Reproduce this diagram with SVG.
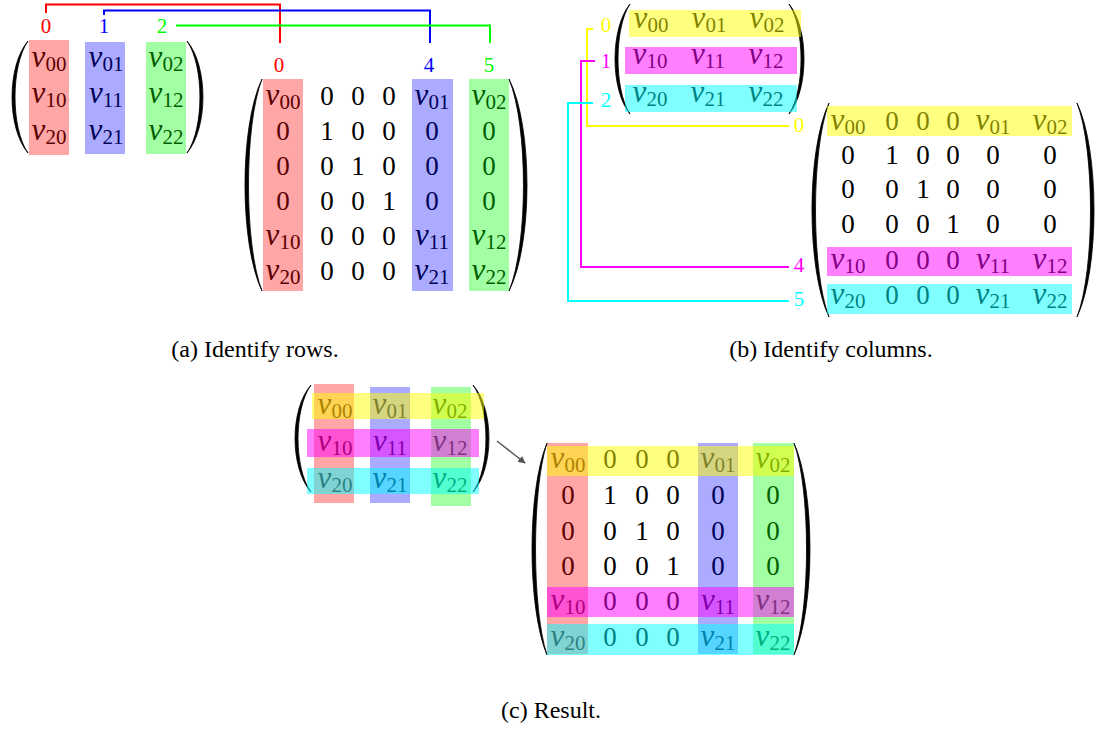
<svg xmlns="http://www.w3.org/2000/svg" width="1097" height="729" viewBox="0 0 1097 729" font-family="'Liberation Serif', 'DejaVu Serif', serif">
<defs>
<style>
.m{font-family:"Liberation Serif","DejaVu Serif",serif;font-size:27px;text-anchor:middle;fill:#000}
.v{font-family:"Liberation Serif","DejaVu Serif",serif;font-style:italic;font-size:31px}
.s{font-family:"Liberation Serif","DejaVu Serif",serif;font-size:21px}
.l{font-family:"Liberation Serif","DejaVu Serif",serif;font-size:21px;text-anchor:middle}
.cap{font-family:"Liberation Serif","DejaVu Serif",serif;font-size:24px;text-anchor:middle;fill:#000}
.par{fill:#000;stroke:#000;stroke-width:0.8}
.R{fill:#ff0000;opacity:0.35}
.B{fill:#0000ff;opacity:0.33}
.G{fill:#00ff00;opacity:0.36}
.Y{fill:#ffff00;opacity:0.5}
.M{fill:#ff00ff;opacity:0.5}
.C{fill:#00ffff;opacity:0.5}
.ln{fill:none;stroke-width:2}
</style>
<marker id="ah" viewBox="0 0 10 10" refX="9" refY="5" markerWidth="5" markerHeight="5" orient="auto">
<path d="M0,0 L10,5 L0,10 z" fill="#555"/>
</marker>
</defs>
<rect width="1097" height="729" fill="#fff"/>

<!-- Panel (a) left matrix -->
<g id="a-left">
<path class="par" d="M28,41 C6.7,66 6.7,128 28,153 C10.7,128 10.7,66 28,41 Z"/>
<path class="par" d="M187,41 C208.3,66 208.3,128 187,153 C204.3,128 204.3,66 187,41 Z"/>
<text class="m" x="49" y="67"><tspan class="v">v</tspan><tspan class="s" dy="4">00</tspan></text>
<text class="m" x="106" y="67"><tspan class="v">v</tspan><tspan class="s" dy="4">01</tspan></text>
<text class="m" x="166" y="67"><tspan class="v">v</tspan><tspan class="s" dy="4">02</tspan></text>
<text class="m" x="49" y="103"><tspan class="v">v</tspan><tspan class="s" dy="4">10</tspan></text>
<text class="m" x="106" y="103"><tspan class="v">v</tspan><tspan class="s" dy="4">11</tspan></text>
<text class="m" x="166" y="103"><tspan class="v">v</tspan><tspan class="s" dy="4">12</tspan></text>
<text class="m" x="49" y="140"><tspan class="v">v</tspan><tspan class="s" dy="4">20</tspan></text>
<text class="m" x="106" y="140"><tspan class="v">v</tspan><tspan class="s" dy="4">21</tspan></text>
<text class="m" x="166" y="140"><tspan class="v">v</tspan><tspan class="s" dy="4">22</tspan></text>
<rect class="R" x="29" y="40" width="40" height="115"/>
<rect class="B" x="85" y="42" width="40" height="112"/>
<rect class="G" x="146" y="42" width="40" height="112"/>
<text class="l" x="46" y="33" fill="#ff0000">0</text>
<text class="l" x="104" y="33" fill="#0000ff">1</text>
<text class="l" x="162" y="33" fill="#00ff00">2</text>
</g>

<!-- Panel (a) right matrix -->
<g id="a-right">
<path class="par" d="M262,79 C239.3,126 239.3,244 262,291 C244,244 244,126 262,79 Z"/>
<path class="par" d="M509,79 C533,126 533,244 509,291 C528.3,244 528.3,126 509,79 Z"/>
<text class="m" x="283" y="105"><tspan class="v">v</tspan><tspan class="s" dy="4">00</tspan></text>
<text class="m" x="327" y="105">0</text><text class="m" x="358" y="105">0</text><text class="m" x="389" y="105">0</text>
<text class="m" x="432" y="105"><tspan class="v">v</tspan><tspan class="s" dy="4">01</tspan></text>
<text class="m" x="489" y="105"><tspan class="v">v</tspan><tspan class="s" dy="4">02</tspan></text>
<text class="m" x="283" y="140">0</text><text class="m" x="327" y="140">1</text><text class="m" x="358" y="140">0</text><text class="m" x="389" y="140">0</text><text class="m" x="432" y="140">0</text><text class="m" x="489" y="140">0</text>
<text class="m" x="283" y="175">0</text><text class="m" x="327" y="175">0</text><text class="m" x="358" y="175">1</text><text class="m" x="389" y="175">0</text><text class="m" x="432" y="175">0</text><text class="m" x="489" y="175">0</text>
<text class="m" x="283" y="210">0</text><text class="m" x="327" y="210">0</text><text class="m" x="358" y="210">0</text><text class="m" x="389" y="210">1</text><text class="m" x="432" y="210">0</text><text class="m" x="489" y="210">0</text>
<text class="m" x="283" y="245"><tspan class="v">v</tspan><tspan class="s" dy="4">10</tspan></text>
<text class="m" x="327" y="245">0</text><text class="m" x="358" y="245">0</text><text class="m" x="389" y="245">0</text>
<text class="m" x="432" y="245"><tspan class="v">v</tspan><tspan class="s" dy="4">11</tspan></text>
<text class="m" x="489" y="245"><tspan class="v">v</tspan><tspan class="s" dy="4">12</tspan></text>
<text class="m" x="283" y="280"><tspan class="v">v</tspan><tspan class="s" dy="4">20</tspan></text>
<text class="m" x="327" y="280">0</text><text class="m" x="358" y="280">0</text><text class="m" x="389" y="280">0</text>
<text class="m" x="432" y="280"><tspan class="v">v</tspan><tspan class="s" dy="4">21</tspan></text>
<text class="m" x="489" y="280"><tspan class="v">v</tspan><tspan class="s" dy="4">22</tspan></text>
<rect class="R" x="263" y="79" width="40" height="212"/>
<rect class="B" x="412" y="79" width="41" height="212"/>
<rect class="G" x="469" y="79" width="40" height="212"/>
<text class="l" x="279" y="72" fill="#ff0000">0</text>
<text class="l" x="429" y="72" fill="#0000ff">4</text>
<text class="l" x="489" y="72" fill="#00ff00">5</text>
</g>

<!-- Panel (b) top matrix -->
<g id="b-top">
<path class="par" d="M630,4 C610,28 610,90 630,114 C614,90 614,28 630,4 Z"/>
<path class="par" d="M789,4 C809,28 809,90 789,114 C805,90 805,28 789,4 Z"/>
<text class="m" x="651" y="28"><tspan class="v">v</tspan><tspan class="s" dy="4">00</tspan></text>
<text class="m" x="709" y="28"><tspan class="v">v</tspan><tspan class="s" dy="4">01</tspan></text>
<text class="m" x="767" y="28"><tspan class="v">v</tspan><tspan class="s" dy="4">02</tspan></text>
<text class="m" x="650" y="64"><tspan class="v">v</tspan><tspan class="s" dy="4">10</tspan></text>
<text class="m" x="708" y="64"><tspan class="v">v</tspan><tspan class="s" dy="4">11</tspan></text>
<text class="m" x="766" y="64"><tspan class="v">v</tspan><tspan class="s" dy="4">12</tspan></text>
<text class="m" x="650" y="102"><tspan class="v">v</tspan><tspan class="s" dy="4">20</tspan></text>
<text class="m" x="708" y="102"><tspan class="v">v</tspan><tspan class="s" dy="4">21</tspan></text>
<text class="m" x="766" y="102"><tspan class="v">v</tspan><tspan class="s" dy="4">22</tspan></text>
<rect class="Y" x="629" y="10" width="172" height="27"/>
<rect class="M" x="625" y="47" width="172" height="27"/>
<rect class="C" x="625" y="85" width="172" height="27"/>
<text class="l" x="606" y="32" fill="#ffff00">0</text>
<text class="l" x="606" y="68" fill="#ff00ff">1</text>
<text class="l" x="606" y="107" fill="#00ffff">2</text>
</g>

<!-- Panel (b) right matrix -->
<g id="b-right">
<path class="par" d="M829,103 C806.3,150 806.3,270 829,317 C811,270 811,150 829,103 Z"/>
<path class="par" d="M1077,103 C1099.7,150 1099.7,270 1077,317 C1095,270 1095,150 1077,103 Z"/>
<text class="m" x="848" y="130"><tspan class="v">v</tspan><tspan class="s" dy="4">00</tspan></text>
<text class="m" x="892" y="130">0</text><text class="m" x="923" y="130">0</text><text class="m" x="953" y="130">0</text>
<text class="m" x="993" y="130"><tspan class="v">v</tspan><tspan class="s" dy="4">01</tspan></text>
<text class="m" x="1050" y="130"><tspan class="v">v</tspan><tspan class="s" dy="4">02</tspan></text>
<text class="m" x="848" y="164">0</text><text class="m" x="892" y="164">1</text><text class="m" x="923" y="164">0</text><text class="m" x="953" y="164">0</text><text class="m" x="993" y="164">0</text><text class="m" x="1050" y="164">0</text>
<text class="m" x="848" y="198">0</text><text class="m" x="892" y="198">0</text><text class="m" x="923" y="198">1</text><text class="m" x="953" y="198">0</text><text class="m" x="993" y="198">0</text><text class="m" x="1050" y="198">0</text>
<text class="m" x="848" y="233">0</text><text class="m" x="892" y="233">0</text><text class="m" x="923" y="233">0</text><text class="m" x="953" y="233">1</text><text class="m" x="993" y="233">0</text><text class="m" x="1050" y="233">0</text>
<text class="m" x="848" y="269"><tspan class="v">v</tspan><tspan class="s" dy="4">10</tspan></text>
<text class="m" x="892" y="269">0</text><text class="m" x="923" y="269">0</text><text class="m" x="953" y="269">0</text>
<text class="m" x="993" y="269"><tspan class="v">v</tspan><tspan class="s" dy="4">11</tspan></text>
<text class="m" x="1050" y="269"><tspan class="v">v</tspan><tspan class="s" dy="4">12</tspan></text>
<text class="m" x="848" y="304"><tspan class="v">v</tspan><tspan class="s" dy="4">20</tspan></text>
<text class="m" x="892" y="304">0</text><text class="m" x="923" y="304">0</text><text class="m" x="953" y="304">0</text>
<text class="m" x="993" y="304"><tspan class="v">v</tspan><tspan class="s" dy="4">21</tspan></text>
<text class="m" x="1050" y="304"><tspan class="v">v</tspan><tspan class="s" dy="4">22</tspan></text>
<rect class="Y" x="827" y="106" width="245" height="30"/>
<rect class="M" x="827" y="247" width="245" height="29"/>
<rect class="C" x="827" y="284" width="245" height="30"/>
<text class="l" x="799" y="132" fill="#ffff00">0</text>
<text class="l" x="799" y="272" fill="#ff00ff">4</text>
<text class="l" x="799" y="306" fill="#00ffff">5</text>
</g>

<!-- Panel (c) left matrix -->
<g id="c-left">
<path class="par" d="M311,385 C289.7,409 289.7,468 311,492 C293.7,468 293.7,409 311,385 Z"/>
<path class="par" d="M473,385 C494.3,409 494.3,468 473,492 C490.3,468 490.3,409 473,385 Z"/>
<text class="m" x="335" y="414"><tspan class="v">v</tspan><tspan class="s" dy="4">00</tspan></text>
<text class="m" x="390" y="414"><tspan class="v">v</tspan><tspan class="s" dy="4">01</tspan></text>
<text class="m" x="450" y="414"><tspan class="v">v</tspan><tspan class="s" dy="4">02</tspan></text>
<text class="m" x="335" y="451"><tspan class="v">v</tspan><tspan class="s" dy="4">10</tspan></text>
<text class="m" x="390" y="451"><tspan class="v">v</tspan><tspan class="s" dy="4">11</tspan></text>
<text class="m" x="450" y="451"><tspan class="v">v</tspan><tspan class="s" dy="4">12</tspan></text>
<text class="m" x="335" y="488"><tspan class="v">v</tspan><tspan class="s" dy="4">20</tspan></text>
<text class="m" x="390" y="488"><tspan class="v">v</tspan><tspan class="s" dy="4">21</tspan></text>
<text class="m" x="450" y="488"><tspan class="v">v</tspan><tspan class="s" dy="4">22</tspan></text>
<rect class="R" x="314" y="384" width="40" height="119"/>
<rect class="B" x="370" y="387" width="40" height="116"/>
<rect class="G" x="431" y="387" width="40" height="119"/>
<rect class="Y" x="312" y="393" width="172" height="26"/>
<rect class="M" x="307" y="429" width="172" height="28"/>
<rect class="C" x="307" y="468" width="172" height="26"/>
</g>

<!-- Panel (c) right matrix -->
<g id="c-right">
<path class="par" d="M547,443 C527,490 527,608 547,655 C531.7,608 531.7,490 547,443 Z"/>
<path class="par" d="M794,443 C815.3,490 815.3,608 794,655 C810.7,608 810.7,490 794,443 Z"/>
<text class="m" x="568" y="468"><tspan class="v">v</tspan><tspan class="s" dy="4">00</tspan></text>
<text class="m" x="610" y="468">0</text><text class="m" x="642" y="468">0</text><text class="m" x="673" y="468">0</text>
<text class="m" x="718" y="468"><tspan class="v">v</tspan><tspan class="s" dy="4">01</tspan></text>
<text class="m" x="773" y="468"><tspan class="v">v</tspan><tspan class="s" dy="4">02</tspan></text>
<text class="m" x="568" y="504">0</text><text class="m" x="610" y="504">1</text><text class="m" x="642" y="504">0</text><text class="m" x="673" y="504">0</text><text class="m" x="718" y="504">0</text><text class="m" x="773" y="504">0</text>
<text class="m" x="568" y="540">0</text><text class="m" x="610" y="540">0</text><text class="m" x="642" y="540">1</text><text class="m" x="673" y="540">0</text><text class="m" x="718" y="540">0</text><text class="m" x="773" y="540">0</text>
<text class="m" x="568" y="575">0</text><text class="m" x="610" y="575">0</text><text class="m" x="642" y="575">0</text><text class="m" x="673" y="575">1</text><text class="m" x="718" y="575">0</text><text class="m" x="773" y="575">0</text>
<text class="m" x="568" y="610"><tspan class="v">v</tspan><tspan class="s" dy="4">10</tspan></text>
<text class="m" x="610" y="610">0</text><text class="m" x="642" y="610">0</text><text class="m" x="673" y="610">0</text>
<text class="m" x="718" y="610"><tspan class="v">v</tspan><tspan class="s" dy="4">11</tspan></text>
<text class="m" x="773" y="610"><tspan class="v">v</tspan><tspan class="s" dy="4">12</tspan></text>
<text class="m" x="568" y="646"><tspan class="v">v</tspan><tspan class="s" dy="4">20</tspan></text>
<text class="m" x="610" y="646">0</text><text class="m" x="642" y="646">0</text><text class="m" x="673" y="646">0</text>
<text class="m" x="718" y="646"><tspan class="v">v</tspan><tspan class="s" dy="4">21</tspan></text>
<text class="m" x="773" y="646"><tspan class="v">v</tspan><tspan class="s" dy="4">22</tspan></text>
<rect class="R" x="547" y="443" width="41" height="211"/>
<rect class="B" x="698" y="443" width="40" height="211"/>
<rect class="G" x="753" y="443" width="41" height="211"/>
<rect class="Y" x="547" y="446" width="247" height="30"/>
<rect class="M" x="547" y="587" width="247" height="30"/>
<rect class="C" x="547" y="624" width="247" height="31"/>
</g>

<!-- Connectors -->
<g id="connectors">
<polyline class="ln" stroke="#ff0000" points="46,13 46,4.5 280,4.5 280,43"/>
<polyline class="ln" stroke="#0000ff" points="104,15 104,10.5 430,10.5 430,43"/>
<polyline class="ln" stroke="#00ff00" points="176,25.5 490,25.5 490,43"/>
<polyline class="ln" stroke="#ffff00" points="593,29 587,29 587,126 789,126"/>
<polyline class="ln" stroke="#ff00ff" points="595,61 581,61 581,267 789,267"/>
<polyline class="ln" stroke="#00ffff" points="593,103 568,103 568,301 789,301"/>
<line x1="497" y1="441" x2="525" y2="463" stroke="#555" stroke-width="1.5" marker-end="url(#ah)"/>
</g>

<!-- Captions -->
<g id="captions">
<text class="cap" x="255" y="357">(a) Identify rows.</text>
<text class="cap" x="831" y="357">(b) Identify columns.</text>
<text class="cap" x="551" y="718">(c) Result.</text>
</g>
</svg>
